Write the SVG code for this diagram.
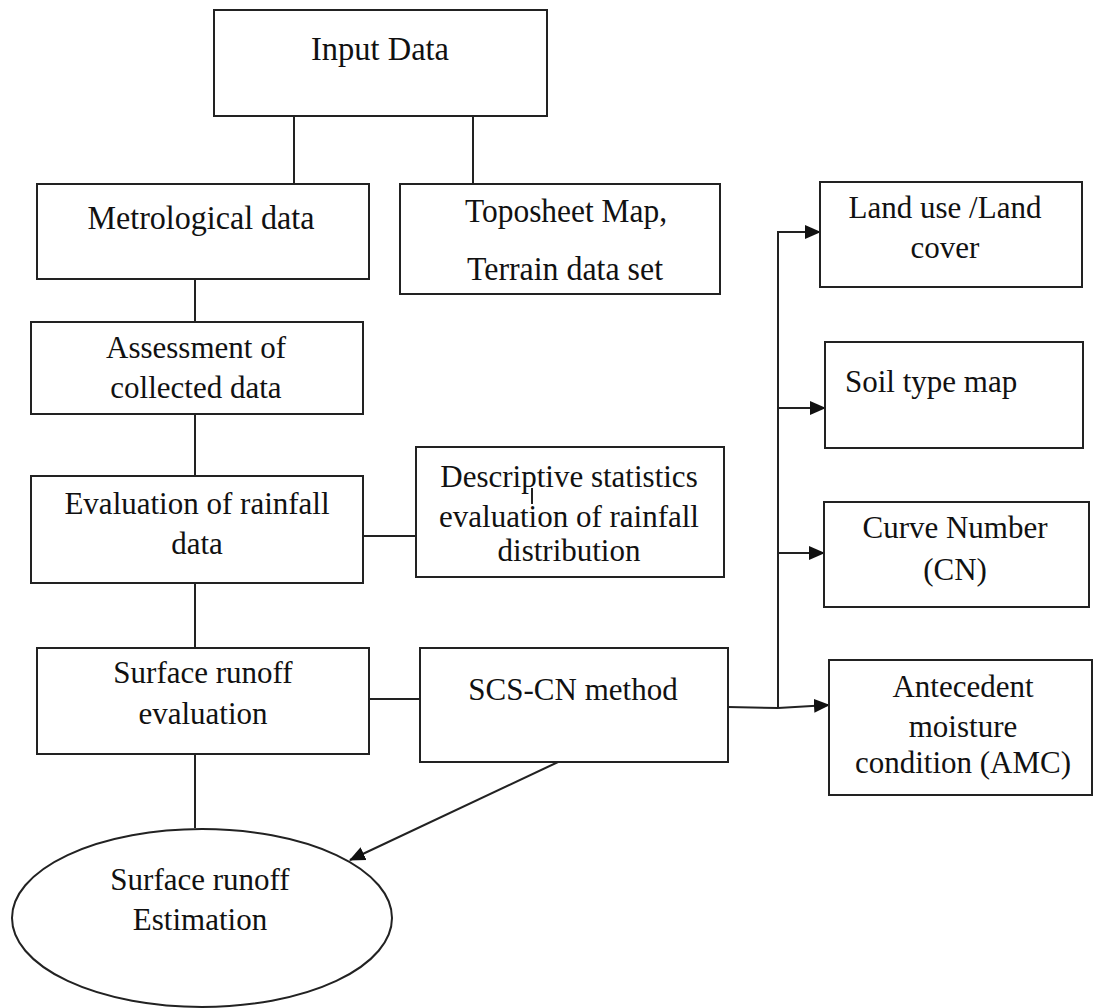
<svg xmlns="http://www.w3.org/2000/svg" width="1094" height="1008" viewBox="0 0 1094 1008" font-family="'Liberation Serif', 'DejaVu Serif', serif">
<style>
.box{fill:#fff;stroke:#222;stroke-width:2}
.ln{fill:none;stroke:#222;stroke-width:2}
.t{font-family:'Liberation Serif','DejaVu Serif',serif;font-size:31px;fill:#111;text-anchor:middle}
.c{font-size:33px}
</style>
<defs>
<marker id="ah" markerUnits="userSpaceOnUse" markerWidth="16" markerHeight="16" viewBox="0 0 16 16" refX="15" refY="8" orient="auto">
<path d="M0,1 L16,8 L0,15 Z" fill="#111"/>
</marker>
</defs>
<rect width="1094" height="1008" fill="#fff"/>
<g id="connectors">
<line class="ln" x1="294" y1="116" x2="294" y2="184"/>
<line class="ln" x1="473" y1="116" x2="473" y2="184"/>
<line class="ln" x1="195" y1="279" x2="195" y2="322"/>
<line class="ln" x1="195" y1="414" x2="195" y2="476"/>
<line class="ln" x1="363" y1="536" x2="416" y2="536"/>
<line class="ln" x1="195" y1="583" x2="195" y2="648"/>
<line class="ln" x1="369" y1="699" x2="420" y2="699"/>
<line class="ln" x1="195" y1="754" x2="195" y2="828"/>
<line class="ln" x1="728" y1="707" x2="778" y2="708"/>
<line class="ln" x1="778" y1="231" x2="778" y2="708"/>
<line class="ln" x1="777" y1="232" x2="820" y2="232" marker-end="url(#ah)"/>
<line class="ln" x1="777" y1="408" x2="825" y2="408" marker-end="url(#ah)"/>
<line class="ln" x1="777" y1="553" x2="824" y2="553" marker-end="url(#ah)"/>
<line class="ln" x1="778" y1="708" x2="829" y2="705" marker-end="url(#ah)"/>
<line class="ln" x1="558" y1="762" x2="350" y2="860" marker-end="url(#ah)"/>
</g>
<g id="input-data">
<rect class="box" x="214" y="10" width="333" height="106"/>
<text class="t c" x="380" y="60" textLength="138" lengthAdjust="spacingAndGlyphs">Input Data</text>
</g>
<g id="metrological-data">
<rect class="box" x="37" y="184" width="332" height="95"/>
<text class="t c" x="201" y="229" textLength="227" lengthAdjust="spacingAndGlyphs">Metrological data</text>
</g>
<g id="toposheet">
<rect class="box" x="400" y="184" width="320" height="110"/>
<text class="t c" x="566" y="222" textLength="202" lengthAdjust="spacingAndGlyphs">Toposheet Map,</text>
<text class="t c" x="565" y="280" textLength="196" lengthAdjust="spacingAndGlyphs">Terrain data set</text>
</g>
<g id="assessment">
<rect class="box" x="31" y="322" width="332" height="92"/>
<text class="t" x="196" y="358">Assessment of</text>
<text class="t" x="196" y="398">collected data</text>
</g>
<g id="evaluation-rainfall">
<rect class="box" x="31" y="476" width="332" height="107"/>
<text class="t" x="197" y="514">Evaluation of rainfall</text>
<text class="t" x="197" y="554">data</text>
</g>
<g id="descriptive-statistics">
<rect class="box" x="416" y="447" width="308" height="130"/>
<text class="t" x="569" y="487">Descriptive statistics</text>
<text class="t" x="569" y="527">evaluation of rainfall</text>
<text class="t" x="569" y="561">distribution</text>
<line class="ln" x1="532" y1="488" x2="532" y2="504" stroke-width="1.5"/>
</g>
<g id="surface-runoff-evaluation">
<rect class="box" x="37" y="648" width="332" height="106"/>
<text class="t" x="203" y="683">Surface runoff</text>
<text class="t" x="203" y="724">evaluation</text>
</g>
<g id="scs-cn">
<rect class="box" x="420" y="648" width="308" height="114"/>
<text class="t" x="573" y="700">SCS-CN method</text>
</g>
<g id="land-use">
<rect class="box" x="820" y="182" width="262" height="105"/>
<text class="t" x="945" y="218">Land use /Land</text>
<text class="t" x="945" y="258">cover</text>
</g>
<g id="soil-type">
<rect class="box" x="825" y="342" width="258" height="106"/>
<text class="t" x="845" y="392" style="text-anchor:start">Soil type map</text>
</g>
<g id="curve-number">
<rect class="box" x="824" y="502" width="265" height="105"/>
<text class="t" x="955" y="538">Curve Number</text>
<text class="t" x="955" y="580">(CN)</text>
</g>
<g id="amc">
<rect class="box" x="829" y="660" width="263" height="135"/>
<text class="t" x="963" y="697">Antecedent</text>
<text class="t" x="963" y="737">moisture</text>
<text class="t" x="963" y="773">condition (AMC)</text>
</g>
<g id="surface-runoff-estimation">
<ellipse class="box" cx="202" cy="918" rx="190" ry="89"/>
<text class="t" x="200" y="890">Surface runoff</text>
<text class="t" x="200" y="930">Estimation</text>
</g>
</svg>
